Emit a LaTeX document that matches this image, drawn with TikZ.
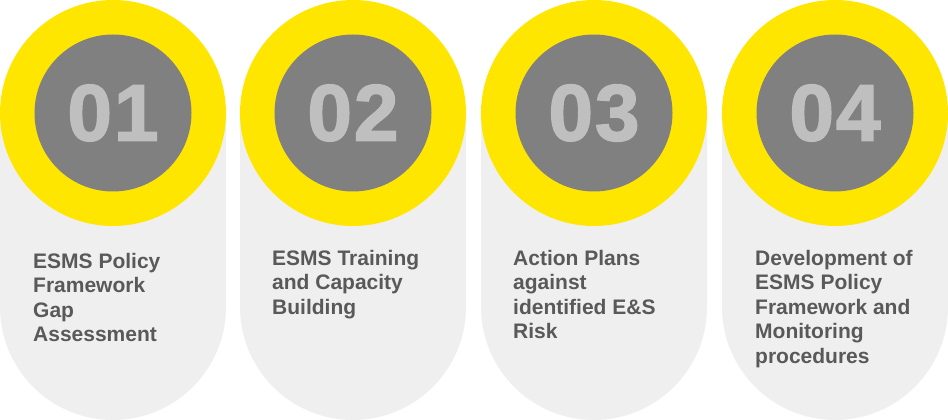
\documentclass[tikz,border=0pt]{standalone}
\usepackage{fontspec}
\setmainfont{Liberation Sans}
\newfontfamily\numfont[FakeBold=2]{Liberation Sans Bold}
\definecolor{eyyellow}{HTML}{FFE600}
\definecolor{circgray}{HTML}{808080}
\definecolor{pillgray}{HTML}{EFEFEF}
\definecolor{numgray}{HTML}{BFBFBF}
\definecolor{txtgray}{HTML}{595959}
\newcommand{\numtxt}[2]{#1\kern2pt #2}
\tikzset{
  pill/.style={fill=pillgray},
  ring/.style={circle, fill=eyyellow, minimum size=226pt, inner sep=0pt},
  disc/.style={circle, fill=circgray, minimum size=157pt, inner sep=0pt, text=numgray, font=\fontsize{80}{80}\selectfont\numfont},
  label/.style={anchor=north west, inner sep=0pt, align=left, text=txtgray, font=\fontsize{21}{24.5}\selectfont\bfseries}
}
\begin{document}
\begin{tikzpicture}[x=1pt,y=1pt]
\useasboundingbox (0,0) rectangle (948,420);
\foreach \c/\n in {113/1,353/2,594/3,835/4}{
  \fill[pill] (\c-113,307) -- (\c-113,113) arc[start angle=180,end angle=360,radius=113] -- (\c+113,307) -- cycle;
  \node[ring] (ring\n) at (\c,307) {};
}
\node[disc] (num1) at (ring1) {\numtxt{0}{1}};
\node[disc] (num2) at (ring2) {\numtxt{0}{2}};
\node[disc] (num3) at (ring3) {\numtxt{0}{3}};
\node[disc] (num4) at (ring4) {\numtxt{0}{4}};
\node[label] (t1) at (33,420-253) {ESMS Policy\\Framework\\Gap\\Assessment};
\node[label] (t2) at (272,420-250) {ESMS Training\\and Capacity\\Building};
\node[label] (t3) at (513,420-250) {Action Plans\\against\\identified E\&S\\Risk};
\node[label] (t4) at (755,420-250) {Development of\\ESMS Policy\\Framework and\\Monitoring\\procedures};
\end{tikzpicture}
\end{document}
